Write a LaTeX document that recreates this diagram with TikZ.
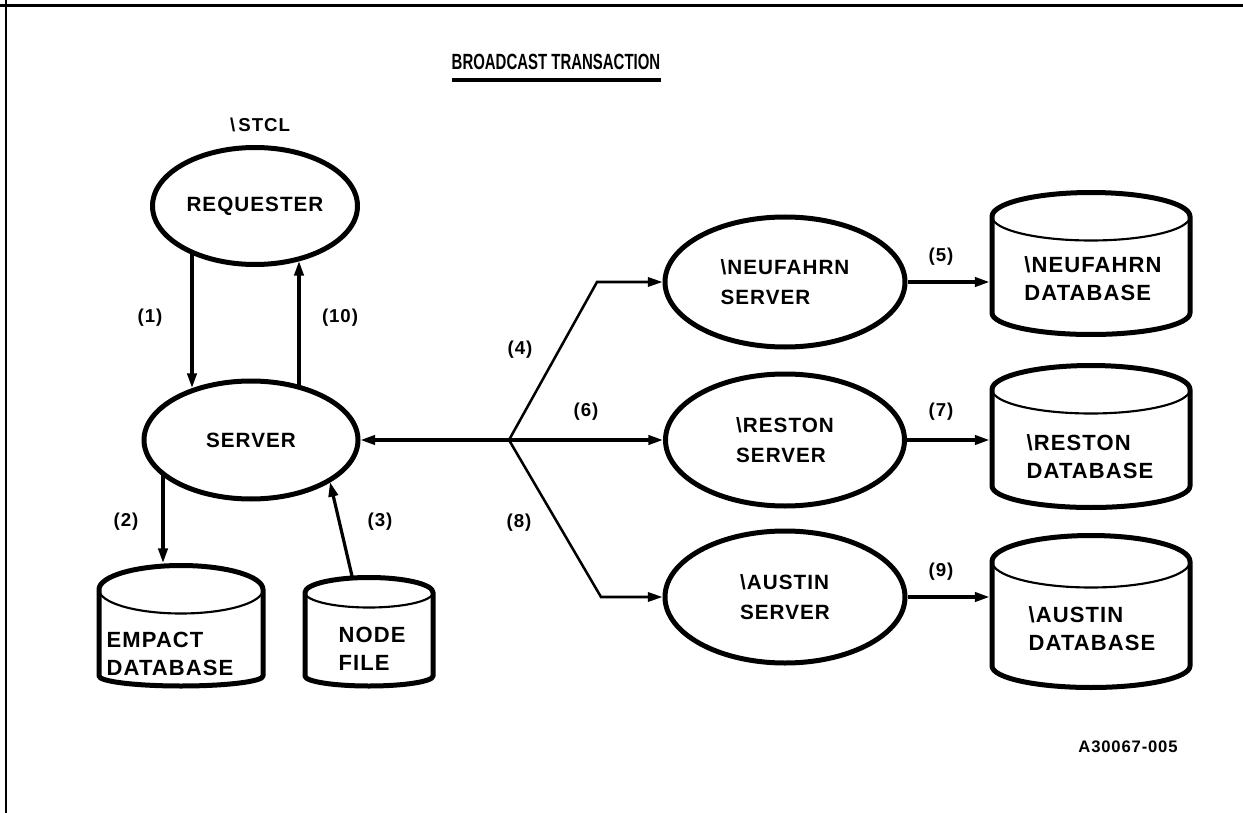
\documentclass[tikz,border=0pt]{standalone}
\usepackage{fontspec}
\setmainfont{Liberation Sans}
\newfontfamily\widefont[LetterSpace=5]{Liberation Sans}
\usetikzlibrary{arrows.meta,shapes.geometric,calc}

% one drawing unit = one pixel of the 1243 x 813 sheet
\newlength\pxu
\setlength\pxu{0.75pt}

\tikzset{
  txt/.style={font=\widefont\fontsize{15.5}{22.5}\selectfont\bfseries, align=left},
  dbtxt/.style={font=\widefont\fontsize{16.5}{21}\selectfont\bfseries, align=left, inner sep=0pt},
  lbl/.style={font=\widefont\fontsize{14}{16}\selectfont\bfseries, inner sep=0pt},
  code/.style={font=\widefont\fontsize{12.5}{14}\selectfont\bfseries, inner sep=0pt},
  titletxt/.style={font=\fontsize{16.5}{18}\selectfont\bfseries, inner sep=0pt},
  proc/.style={ellipse, draw, line width=3.75pt, inner sep=0pt, txt},
  dbinner/.style={line width=1.6pt},
  dbouter/.style={line width=3.75pt, line join=round},
  dbbody/.style={draw=none, inner sep=0pt, outer sep=0pt},
  arr/.style={-{Triangle[length=11pt,width=7pt]}, line width=2.4pt},
  branch/.style={-{Triangle[length=11pt,width=7pt]}, line width=1.9pt, line join=miter},
}

% disk store: name, centre x, top cap y, bottom arc y, half width, cap radius, bottom radius
\newcommand\diskstore[7]{%
  \draw[dbinner] (#2,#3) ellipse[x radius=#5\pxu, y radius=#6\pxu];
  \draw[dbouter] ({#2-#5},#3) -- ({#2-#5},#4)
    arc[start angle=180, end angle=360, x radius=#5\pxu, y radius=#7\pxu]
    -- ({#2+#5},#3)
    arc[start angle=0, end angle=180, x radius=#5\pxu, y radius=#6\pxu] -- cycle;
  \node[dbbody, minimum width={(2*#5+5)*\pxu}, minimum height={(#4-#3+#6+#7+5)*\pxu}]
    (#1) at (#2,{(#3-#6+#4+#7)/2}) {};
}

\begin{document}
\begin{tikzpicture}[x=\pxu, y=-\pxu]
\useasboundingbox (0,0) rectangle (1243,813);

% sheet frame
\draw[line width=2.4pt] (0,5.5) -- (1243,5.5);
\draw[line width=2pt] (6,0) -- (6,813);

% heading
\node[titletxt] (title) at (556,62) {\scalebox{0.68}[1]{BROADCAST TRANSACTION}};
\draw[line width=2.3pt] (452,80) -- (661,80);

% local system
\node[lbl] (stcl) at (260,125) {\textbackslash\,STCL};
\node[proc, minimum width=205\pxu, minimum height=117\pxu] (req) at (255,206) {REQUESTER};
\node[proc, minimum width=214\pxu, minimum height=118\pxu] (srv) at (251,440) {SERVER};

\diskstore{empdb}{181}{589.5}{676}{82}{24}{10}
\node[dbtxt] (empt) at (170,654) {EMPACT\\DATABASE};
\diskstore{nodedb}{369}{592.5}{676}{64}{15}{10}
\node[dbtxt] (nodet) at (372,649) {NODE\\FILE};

% remote servers
\node[proc, minimum width=240\pxu, minimum height=130\pxu] (neu) at (785,282) {\textbackslash NEUFAHRN\\SERVER};
\node[proc, minimum width=239\pxu, minimum height=132\pxu] (res) at (785,440) {\textbackslash RESTON\\SERVER};
\node[proc, minimum width=240\pxu, minimum height=132\pxu] (aus) at (785,597) {\textbackslash AUSTIN\\SERVER};

% remote databases
\diskstore{neudb}{1091}{216.5}{313}{99}{24}{21.5}
\node[dbtxt] (neudbt) at (1093,279) {\textbackslash NEUFAHRN\\DATABASE};
\diskstore{resdb}{1091}{389.5}{486}{99}{24}{21.5}
\node[dbtxt] (resdbt) at (1090,457) {\textbackslash RESTON\\DATABASE};
\diskstore{ausdb}{1091}{561.5}{666}{99}{26}{21.5}
\node[dbtxt] (ausdbt) at (1092,629) {\textbackslash AUSTIN\\DATABASE};

% local flows
\draw[arr] ($(req.center)+(-63,47)$) -- ($(srv.center)+(-59,-52)$);
\draw[arr] ($(srv.center)+(48,-53)$) -- ($(req.center)+(44,55)$);
\draw[arr] ($(srv.center)+(-88,34)$) -- ($(empdb.north)+(-18,0)$);
\draw[arr] ($(nodedb.north)+(-17,1)$) -- ($(srv.center)+(79,42)$);

% broadcast fan-out
\coordinate (j) at (509,440);
\coordinate (jn) at (597,282);
\coordinate (ja) at (601,597);
\draw[arr] (j) -- (srv.east);
\draw[arr] (j) -- (res.west);
\draw[branch] (j) -- (jn) -- (neu.west);
\draw[branch] (j) -- (ja) -- (aus.west);

% server to database
\draw[arr] (neu.east) -- (neu.east -| neudb.west);
\draw[arr] (res.east) -- (res.east -| resdb.west);
\draw[arr] (aus.east) -- (aus.east -| ausdb.west);

% step numbers
\node[lbl] (n1) at (150,318) {(1)};
\node[lbl] (n10) at (340,318) {(10)};
\node[lbl] (n2) at (126,522) {(2)};
\node[lbl] (n3) at (380,522) {(3)};
\node[lbl] (n4) at (520,350) {(4)};
\node[lbl] (n6) at (586,412) {(6)};
\node[lbl] (n8) at (519,523) {(8)};
\node[lbl] (n5) at (941,257) {(5)};
\node[lbl] (n7) at (941,412) {(7)};
\node[lbl] (n9) at (941,572) {(9)};

\node[code] (ref) at (1128,747) {A30067-005};
\end{tikzpicture}
\end{document}
